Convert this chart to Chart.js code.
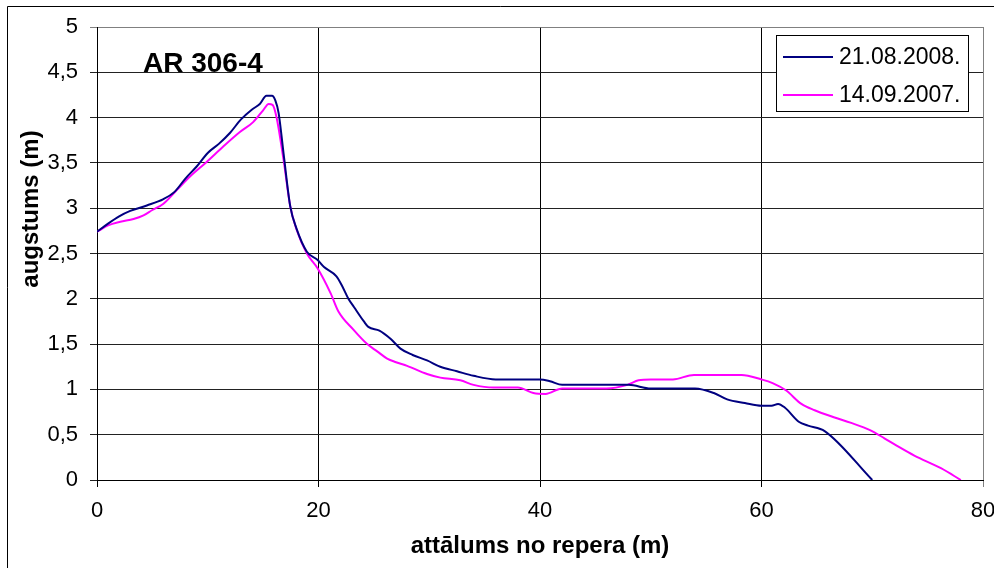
<!DOCTYPE html>
<html>
<head>
<meta charset="utf-8">
<script src="https://cdn.jsdelivr.net/npm/chart.js@4"></script>
<style>
  html, body { margin: 0; padding: 0; background: #fff; }
  canvas { display: block; }
</style>
</head>
<body>
<canvas id="profileChart" width="994" height="568"></canvas>
<script>
// profile AR 306-4, two surveys
const seriesLabels = ['21.08.2008.', '14.09.2007.'];
const seriesColors = ['#000080', '#ff00ff'];

const dist2008 = [0, 1, 2, 3, 4.5, 6, 7, 8, 9, 10, 11, 12, 13, 14, 14.7, 15.3, 15.8, 16.1, 16.4, 16.85,
  17.45, 18, 18.95, 19.9, 20.5, 21.6, 22.1, 22.7, 23.2, 24.1, 24.5, 25.5, 26.5, 27.4, 28.5, 29.8,
  31, 32.5, 34, 36, 40, 40.9, 42, 48, 50, 54, 55.7, 56.9, 58.5, 60, 60.9, 61.5, 62.1, 63.4, 64.2,
  65.7, 70];
const height2008 = [2.74, 2.83, 2.91, 2.97, 3.03, 3.10, 3.18, 3.33, 3.46, 3.61, 3.71, 3.83, 3.98, 4.09,
  4.15, 4.24, 4.24, 4.19, 4.05, 3.60, 3.02, 2.78, 2.52, 2.43, 2.35, 2.25, 2.15, 2.00, 1.91, 1.75,
  1.69, 1.65, 1.56, 1.45, 1.38, 1.32, 1.25, 1.20, 1.15, 1.11, 1.11, 1.09, 1.05, 1.05, 1.01, 1.01,
  0.96, 0.89, 0.85, 0.82, 0.82, 0.84, 0.80, 0.64, 0.60, 0.54, 0];

const dist2007 = [0, 1, 2.1, 3.3, 4.2, 5, 6, 7.2, 8.4, 9.9, 11.4, 12.9, 14.1, 15, 15.5, 15.85, 16.2,
  16.85, 17.45, 18, 18.95, 19.9, 21.1, 21.8, 23.15, 24.4, 25.3, 26.2, 27, 28, 29.8, 31, 32.8, 34,
  35.8, 38, 39.4, 40.5, 42, 46, 47.9, 48.9, 50, 52, 53.9, 58.2, 60, 61, 62.2, 63.6, 64.8, 66.6,
  68.1, 69.8, 71.1, 72.2, 73.8, 76.2, 78];
const height2007 = [2.74, 2.81, 2.85, 2.88, 2.92, 2.98, 3.05, 3.20, 3.35, 3.51, 3.68, 3.84, 3.95, 4.08,
  4.15, 4.14, 4.01, 3.53, 3.02, 2.77, 2.50, 2.34, 2.06, 1.86, 1.66, 1.50, 1.42, 1.34, 1.30, 1.26,
  1.17, 1.13, 1.10, 1.05, 1.02, 1.02, 0.96, 0.95, 1.01, 1.01, 1.05, 1.10, 1.11, 1.11, 1.16, 1.16,
  1.11, 1.07, 0.99, 0.84, 0.77, 0.69, 0.63, 0.55, 0.46, 0.38, 0.27, 0.13, 0];

const xTicks = [0, 20, 40, 60, 80];
const yTickLabels = ['0', '0,5', '1', '1,5', '2', '2,5', '3', '3,5', '4', '4,5', '5'];

const chartTitle = 'AR 306-4';
const xTitle = 'attālums no repera (m)';
const yTitle = 'augstums (m)';

const FONT = '"Liberation Sans", Arial, sans-serif';
Chart.defaults.font.family = FONT;
Chart.defaults.color = '#000';

const toPoints = (xs, ys) => xs.map((x, i) => ({ x: x, y: ys[i] }));

// white background, outer frame, title, y title and legend box
const decorations = {
  id: 'decorations',
  beforeDraw(chart) {
    const ctx = chart.ctx;
    ctx.save();
    ctx.fillStyle = '#fff';
    ctx.fillRect(0, 0, chart.width, chart.height);
    ctx.strokeStyle = '#000';
    ctx.lineWidth = 1;
    ctx.beginPath();
    ctx.moveTo(7.5, chart.height);
    ctx.lineTo(7.5, 6.5);
    ctx.lineTo(chart.width, 6.5);
    ctx.stroke();
    ctx.restore();
  },
  afterDraw(chart) {
    const ctx = chart.ctx;
    ctx.save();
    ctx.fillStyle = '#000';
    ctx.font = 'bold 28px ' + FONT;
    ctx.textAlign = 'left';
    ctx.textBaseline = 'alphabetic';
    ctx.fillText(chartTitle, 143, 72);

    ctx.translate(31, 209);
    ctx.rotate(-Math.PI / 2);
    ctx.font = 'bold 24px ' + FONT;
    ctx.textAlign = 'center';
    ctx.textBaseline = 'middle';
    ctx.fillText(yTitle, 0, 0);
    ctx.setTransform(1, 0, 0, 1, 0, 0);

    // legend
    const bx = 776, by = 35, bw = 192, bh = 76;
    ctx.fillStyle = '#fff';
    ctx.fillRect(bx, by, bw, bh);
    ctx.strokeStyle = '#000';
    ctx.lineWidth = 1;
    ctx.strokeRect(bx + 0.5, by + 0.5, bw, bh);
    ctx.font = '23px ' + FONT;
    ctx.textAlign = 'left';
    ctx.textBaseline = 'middle';
    chart.data.datasets.forEach((ds, i) => {
      const y = by + 22 + i * 38;
      ctx.strokeStyle = ds.borderColor;
      ctx.lineWidth = 2;
      ctx.beginPath();
      ctx.moveTo(783, y);
      ctx.lineTo(833, y);
      ctx.stroke();
      ctx.fillStyle = '#000';
      ctx.fillText(ds.label, 839, y + 1);
    });
    ctx.restore();
  }
};

new Chart(document.getElementById('profileChart').getContext('2d'), {
  type: 'line',
  data: {
    datasets: [
      {
        label: seriesLabels[0],
        data: toPoints(dist2008, height2008),
        borderColor: seriesColors[0],
        backgroundColor: seriesColors[0],
        borderWidth: 2,
        pointRadius: 0,
        cubicInterpolationMode: 'monotone',
        fill: false
      },
      {
        label: seriesLabels[1],
        data: toPoints(dist2007, height2007),
        borderColor: seriesColors[1],
        backgroundColor: seriesColors[1],
        borderWidth: 2,
        pointRadius: 0,
        cubicInterpolationMode: 'monotone',
        fill: false
      }
    ]
  },
  options: {
    responsive: false,
    animation: false,
    layout: { padding: { left: 0, top: 27, right: 0, bottom: 0 } },
    plugins: {
      legend: { display: false },
      tooltip: { enabled: false }
    },
    scales: {
      x: {
        type: 'linear',
        min: 0,
        max: 80,
        afterBuildTicks: axis => { axis.ticks = xTicks.map(v => ({ value: v })); },
        afterFit: axis => {
          axis.height = 88;
          axis.paddingLeft = 0;
          axis.paddingRight = 11;
        },
        grid: {
          color: ctx => (ctx.tick && ctx.tick.value === 80 ? '#808080' : '#000'),
          lineWidth: 1,
          tickLength: 7
        },
        border: { color: '#000', width: 1 },
        ticks: { font: { size: 22 }, padding: 11, maxRotation: 0 },
        title: {
          display: true,
          text: xTitle,
          font: { size: 24, weight: 'bold' },
          padding: { top: 0, bottom: 7 }
        }
      },
      y: {
        min: 0,
        max: 5,
        afterFit: axis => { axis.width = 97; },
        grid: {
          color: ctx => (ctx.tick && ctx.tick.value === 5 ? '#808080' : '#222'),
          lineWidth: 1,
          tickLength: 7
        },
        border: { color: '#000', width: 1 },
        ticks: {
          stepSize: 0.5,
          font: { size: 22 },
          padding: 12,
          callback: value => yTickLabels[Math.round(value * 2)]
        }
      }
    }
  },
  plugins: [decorations]
});
</script>
</body>
</html>
